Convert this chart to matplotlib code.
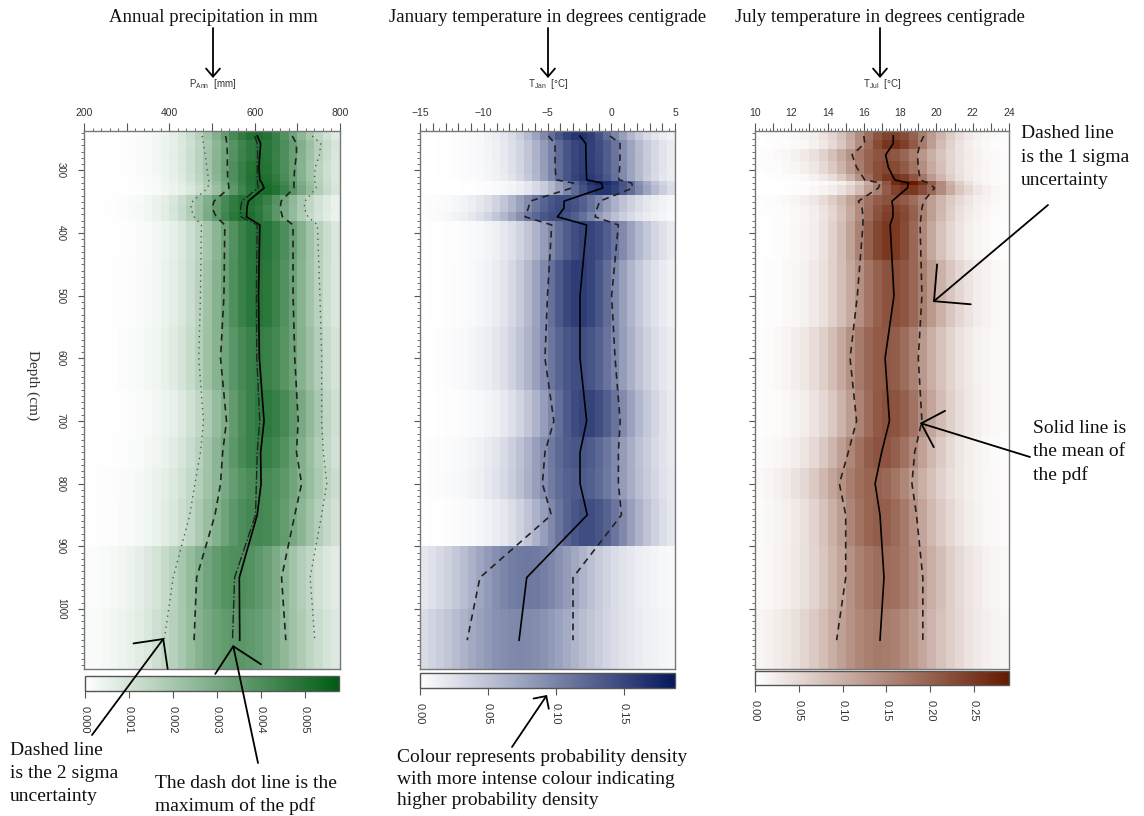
import numpy as np
import matplotlib.pyplot as plt
from matplotlib.colors import LinearSegmentedColormap, Normalize
from matplotlib.ticker import MultipleLocator, FuncFormatter, FormatStrFormatter
from matplotlib.patches import FancyArrowPatch

plt.rcParams['font.family'] = ['Liberation Sans', 'DejaVu Sans']
plt.rcParams['mathtext.fontset'] = 'custom'
plt.rcParams['mathtext.rm'] = 'Liberation Sans'

# sample depths (cm)
depth = [245, 257, 275, 295, 315, 320, 328, 349, 360, 374, 387,
         500, 600, 700, 750, 800, 850, 950, 1050]

# annual precipitation (mm)
pann_mean = [606, 614, 612, 610, 612, 617, 622, 585, 582, 581, 612, 609, 611, 622, 614, 615, 606, 564, 565]
pann_mode = [600, 606, 607, 606, 606, 607, 608, 570, 567, 568, 606, 604, 605, 612, 606, 604, 602, 553, 548]
pann_lo1 = [532, 535, 536, 536, 537, 538, 540, 505, 500, 510, 530, 528, 520, 534, 525, 520, 507, 464, 458]
pann_hi1 = [688, 698, 698, 694, 692, 692, 692, 662, 660, 665, 690, 690, 694, 702, 698, 710, 694, 663, 673]
pann_lo2 = [477, 480, 484, 488, 492, 493, 490, 455, 450, 458, 475, 473, 469, 480, 473, 460, 448, 409, 388]
pann_hi2 = [735, 755, 752, 742, 740, 742, 744, 718, 716, 725, 747, 753, 757, 757, 761, 769, 757, 730, 741]

# january temperature (deg C)
tjan_mean = [-2.45, -2.0, -1.99, -1.96, -1.93, -0.75, -0.67, -3.7, -3.7, -4.23, -1.93,
             -2.45, -2.45, -1.93, -2.45, -2.45, -1.88, -6.63, -7.23]
tjan_lo = [-4.93, -4.41, -4.41, -4.40, -4.33, -2.97, -3.1, -6.37, -6.5, -6.76, -4.67,
           -5.0, -5.2, -4.5, -5.2, -5.4, -4.7, -10.3, -11.3]
tjan_hi = [-0.1, 0.69, 0.69, 0.66, 0.6, 1.6, 1.7, -0.9, -1.1, -1.27, 0.56,
           0.03, 0.3, 0.7, 0.56, 0.56, 0.8, -3.0, -3.0]

# july temperature (deg C)
tjul_mean = [17.62, 17.62, 17.2, 17.35, 17.7, 18.45, 18.4, 17.55, 17.6, 17.6, 17.45,
             17.66, 17.17, 17.41, 16.98, 16.62, 16.89, 17.11, 16.89]
tjul_lo = [16.0, 16.05, 15.35, 15.6, 16.05, 16.9, 16.8, 15.7, 15.9, 15.95, 15.95,
           15.64, 15.24, 15.6, 15.14, 14.65, 15.0, 15.0, 14.5]
tjul_hi = [19.3, 19.1, 18.95, 19.0, 19.1, 19.55, 19.9, 19.3, 19.2, 19.15, 19.1,
           19.2, 19.0, 19.2, 18.8, 18.65, 18.9, 19.25, 19.25]

W, H = 1144, 816
fig = plt.figure(figsize=(W / 100, H / 100), dpi=100)


def box(x0, y0, x1, y1):
    return [x0 / W, 1 - y1 / H, (x1 - x0) / W, (y1 - y0) / H]


def fpx(x, y):
    return (x / W, 1 - y / H)


d = np.array(depth, float)
dedges = np.concatenate([[237], (d[1:] + d[:-1]) / 2, [1096]])

panels = [
    dict(mean=pann_mean, lo=pann_lo1, hi=pann_hi1, xlim=(200, 800), bin=20,
         major=100, minor=20, label_every=200, col='#005c14', vmax=0.00577,
         cticks=[0, 0.001, 0.002, 0.003, 0.004, 0.005], cfmt='%.3f',
         ax_box=(84, 131, 340, 669), cb_box=(85, 676, 339, 691),
         xlab=r'$\mathrm{P_{Ann}}$  [mm]', xlab_x=213),
    dict(mean=tjan_mean, lo=tjan_lo, hi=tjan_hi, xlim=(-15, 5), bin=0.625,
         major=1, minor=0.5, label_every=5, col='#06185c', vmax=0.1875,
         cticks=[0, 0.05, 0.10, 0.15], cfmt='%.2f',
         ax_box=(420, 131, 675, 669), cb_box=(420, 673, 675, 688),
         xlab=r'$\mathrm{T_{Jan}}$  [°C]', xlab_x=548),
    dict(mean=tjul_mean, lo=tjul_lo, hi=tjul_hi, xlim=(10, 24), bin=0.5,
         major=1, minor=0.2, label_every=2, col='#661a00', vmax=0.29,
         cticks=[0, 0.05, 0.10, 0.15, 0.20, 0.25], cfmt='%.2f',
         ax_box=(755, 131, 1009, 669), cb_box=(755, 671, 1009, 685),
         xlab=r'$\mathrm{T_{Jul}}$  [°C]', xlab_x=882),
]

dash = (0, (4, 3))
nu = 10.0
for i, p in enumerate(panels):
    ax = fig.add_axes(box(*p['ax_box']))
    cmap = LinearSegmentedColormap.from_list('c', ['#ffffff', p['col']])
    xe = np.arange(p['xlim'][0], p['xlim'][1] + p['bin'] / 2, p['bin'])
    xc = (xe[1:] + xe[:-1]) / 2
    m = np.array(p['mean'])[:, None]
    s = (np.array(p['hi']) - np.array(p['lo']))[:, None] / 2
    # slightly broad-shouldered density shape for each sample
    z = (xc[None, :] - m) / (1.15 * s)
    dens = (1 + z ** 2 / nu) ** (-(nu + 1) / 2) / (s * np.sqrt(2 * np.pi))
    mesh = ax.pcolormesh(xe, dedges, dens, cmap=cmap,
                         norm=Normalize(0, p['vmax']), shading='flat')

    ax.plot(p['mean'], depth, color='k', lw=1.2)
    ax.plot(p['lo'], depth, color='#222222', lw=1.2, ls=dash)
    ax.plot(p['hi'], depth, color='#222222', lw=1.2, ls=dash)
    if i == 0:
        ax.plot(pann_mode, depth, color='#222222', lw=1.0, ls='-.')
        ax.plot(pann_lo2, depth, color='#555555', lw=1.0, ls=(0, (1, 3)))
        ax.plot(pann_hi2, depth, color='#555555', lw=1.0, ls=(0, (1, 3)))

    ax.set_xlim(*p['xlim'])
    ax.set_ylim(1096, 237)
    ax.xaxis.tick_top()
    le = p['label_every']
    ax.xaxis.set_major_locator(MultipleLocator(p['major']))
    ax.xaxis.set_minor_locator(MultipleLocator(p['minor']))
    ax.xaxis.set_major_formatter(FuncFormatter(
        lambda v, pos, le=le: ('%g' % v).replace('-', '\u2212') if abs(v / le - round(v / le)) < 1e-6 else ''))
    ax.tick_params(axis='x', which='major', length=5.5, width=0.8, colors='#555555',
                   labelcolor='#333333', labelsize=7.5, pad=4)
    ax.tick_params(axis='x', which='minor', length=2.5, width=0.6, colors='#555555')
    ax.yaxis.set_major_locator(MultipleLocator(100))
    ax.yaxis.set_minor_locator(MultipleLocator(10))
    ax.tick_params(axis='y', which='major', length=4, width=0.8, colors='#555555',
                   labelcolor='#333333', labelsize=7, labelrotation=-90, pad=9)
    ax.tick_params(axis='y', which='minor', length=2, width=0.6, colors='#555555')
    if i > 0:
        ax.tick_params(axis='y', labelleft=False)
    else:
        for t in ax.get_yticklabels():
            t.set_va('center')
    for sp in ax.spines.values():
        sp.set_color('#777777')
        sp.set_linewidth(1.0)

    cax = fig.add_axes(box(*p['cb_box']))
    cb = fig.colorbar(mesh, cax=cax, orientation='horizontal')
    cb.set_ticks(p['cticks'])
    cb.ax.xaxis.set_major_formatter(FormatStrFormatter(p['cfmt']))
    cb.ax.tick_params(axis='x', length=5, width=0.8, colors='#555555',
                      labelcolor='#333333', labelsize=8, labelrotation=-90, pad=6)
    cb.outline.set_edgecolor('#555555')
    cb.outline.set_linewidth(1.0)

    fig.text(*fpx(p['xlab_x'], 84), p['xlab'], ha='center', va='center',
             fontsize=7, color='#333333')

fig.text(*fpx(33, 385), 'Depth (cm)', rotation=-90, ha='center', va='center',
         fontsize=11, family='Liberation Serif', color='#333333')

serif = dict(family='Liberation Serif', fontsize=14, color='#111111')
title = dict(serif, fontsize=13.5)
fig.text(*fpx(213, 17), 'Annual precipitation in mm', ha='center', va='center', **title)
fig.text(*fpx(548, 17), 'January temperature in degrees centigrade', ha='center', va='center', **title)
fig.text(*fpx(880, 17), 'July temperature in degrees centigrade', ha='center', va='center', **title)

fig.text(*fpx(1021, 125), 'Dashed line\nis the 1 sigma\nuncertainty', ha='left', va='top',
         linespacing=1.5, **serif)
fig.text(*fpx(1033, 420), 'Solid line is\nthe mean of\nthe pdf', ha='left', va='top',
         linespacing=1.45, **serif)
fig.text(*fpx(10, 742), 'Dashed line\nis the 2 sigma\nuncertainty', ha='left', va='top',
         linespacing=1.45, **serif)
fig.text(*fpx(155, 775), 'The dash dot line is the\nmaximum of the pdf', ha='left', va='top',
         linespacing=1.38, **serif)
fig.text(*fpx(397, 749), 'Colour represents probability density\nwith more intense colour indicating\nhigher probability density',
         ha='left', va='top', linespacing=1.36, **serif)


def arrow(x0, y0, x1, y1, hl, hw, lw=1.3):
    fig.add_artist(FancyArrowPatch(posA=fpx(x0, y0), posB=fpx(x1, y1),
                                   transform=fig.transFigure,
                                   arrowstyle='->,head_length=%g,head_width=%g' % (hl, hw),
                                   mutation_scale=10, lw=lw, color='k',
                                   shrinkA=0, shrinkB=0))


for x in (213, 548, 880):
    arrow(x, 28, x, 78, 0.58, 0.5)
arrow(92, 735, 164, 638, 1.53, 1.53)
arrow(258, 763, 233, 645, 1.68, 1.68)
arrow(512, 747, 547, 695, 0.66, 0.66)
arrow(1048, 205, 933, 302, 1.88, 1.88)
arrow(1030, 457, 920, 423, 1.37, 1.37)

fig.savefig('out.png', dpi=100)
